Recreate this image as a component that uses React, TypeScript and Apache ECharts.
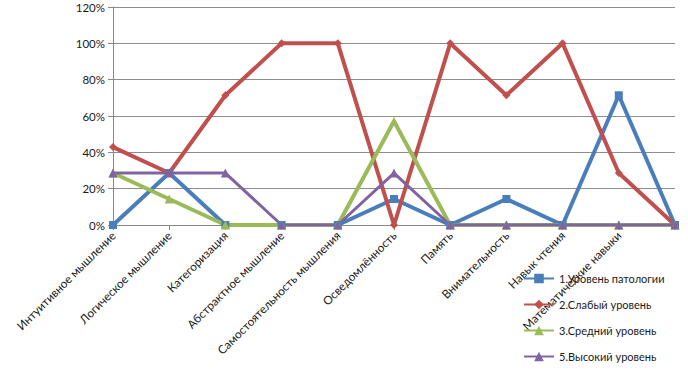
import React, { useEffect, useRef } from "react";
import * as echarts from "echarts";

const categories = [
  "Интуитивное мышление",
  "Логическое мышление",
  "Категоризация",
  "Абстрактное мышление",
  "Самостоятельность мышления",
  "Осведомлённость",
  "Память",
  "Внимательность",
  "Навык чтения",
  "Математические навыки",
  "",
];
const pathology = [0, 28.6, 0, 0, 0, 14.3, 0, 14.3, 0, 71.4, 0];
const weak = [42.9, 28.6, 71.4, 100, 100, 0, 100, 71.4, 100, 28.6, 0];
const medium = [28.6, 14.3, 0, 0, 0, 57.1, 0, 0, 0, 0, 0];
const high = [28.6, 28.6, 28.6, 0, 0, 28.6, 0, 0, 0, 0, 0];
const seriesNames = [
  "1.Уровень патологии",
  "2.Слабый уровень",
  "3.Средний уровень",
  "5.Высокий уровень",
];
const yTicks = { min: 0, max: 120, interval: 20 };

const FONT = "Lato, 'Noto Sans', sans-serif";

export default function App() {
  const ref = useRef<HTMLDivElement>(null);
  useEffect(() => {
    if (!ref.current) return;
    const chart = echarts.init(ref.current, undefined, { renderer: "svg" });
    const mk = (name: string, data: number[], color: string, symbol: string, size: number, width: number) => ({
      name,
      type: "line",
      data,
      symbol,
      symbolSize: size,
      showAllSymbol: true,
      lineStyle: { color, width },
      itemStyle: { color },
      emphasis: { disabled: true },
    });
    chart.setOption({
      animation: false,
      textStyle: { fontFamily: FONT },
      grid: { left: 113, right: 13, top: 7, bottom: 152, containLabel: false },
      legend: {
        orient: "vertical",
        left: 518,
        top: 268,
        itemWidth: 30,
        itemHeight: 12,
        itemGap: 15,
        textStyle: { fontSize: 11, color: "#1a1a1a", fontFamily: FONT },
        data: seriesNames,
      },
      xAxis: {
        type: "category",
        data: categories,
        boundaryGap: false,
        axisLine: { lineStyle: { color: "#888", width: 1 } },
        axisTick: { show: true, alignWithLabel: true, length: 5, lineStyle: { color: "#888" } },
        axisLabel: { rotate: 45, fontSize: 11.7, color: "#1a1a1a", margin: 8, interval: 0, fontFamily: FONT },
        splitLine: { show: false },
      },
      yAxis: {
        type: "value",
        min: yTicks.min,
        max: yTicks.max,
        interval: yTicks.interval,
        axisLine: { show: true, lineStyle: { color: "#888" } },
        axisTick: { show: true, length: 5, lineStyle: { color: "#888" } },
        axisLabel: { formatter: "{value}%", fontSize: 11.5, color: "#1a1a1a", margin: 8, fontFamily: FONT },
        splitLine: { lineStyle: { color: "#8c8c8c", width: 1 } },
      },
      series: [
        mk(seriesNames[0], pathology, "#4a7ebb", "rect", 8, 4),
        mk(seriesNames[1], weak, "#c0504d", "diamond", 8, 4),
        mk(seriesNames[2], medium, "#9bbb59", "triangle", 9, 4),
        mk(seriesNames[3], high, "#8064a2", "triangle", 9, 3),
      ],
    });
    return () => chart.dispose();
  }, []);
  return <div ref={ref} style={{ width: 688, height: 377, position: "absolute", left: 0, top: 0, background: "#fff" }} />;
}
